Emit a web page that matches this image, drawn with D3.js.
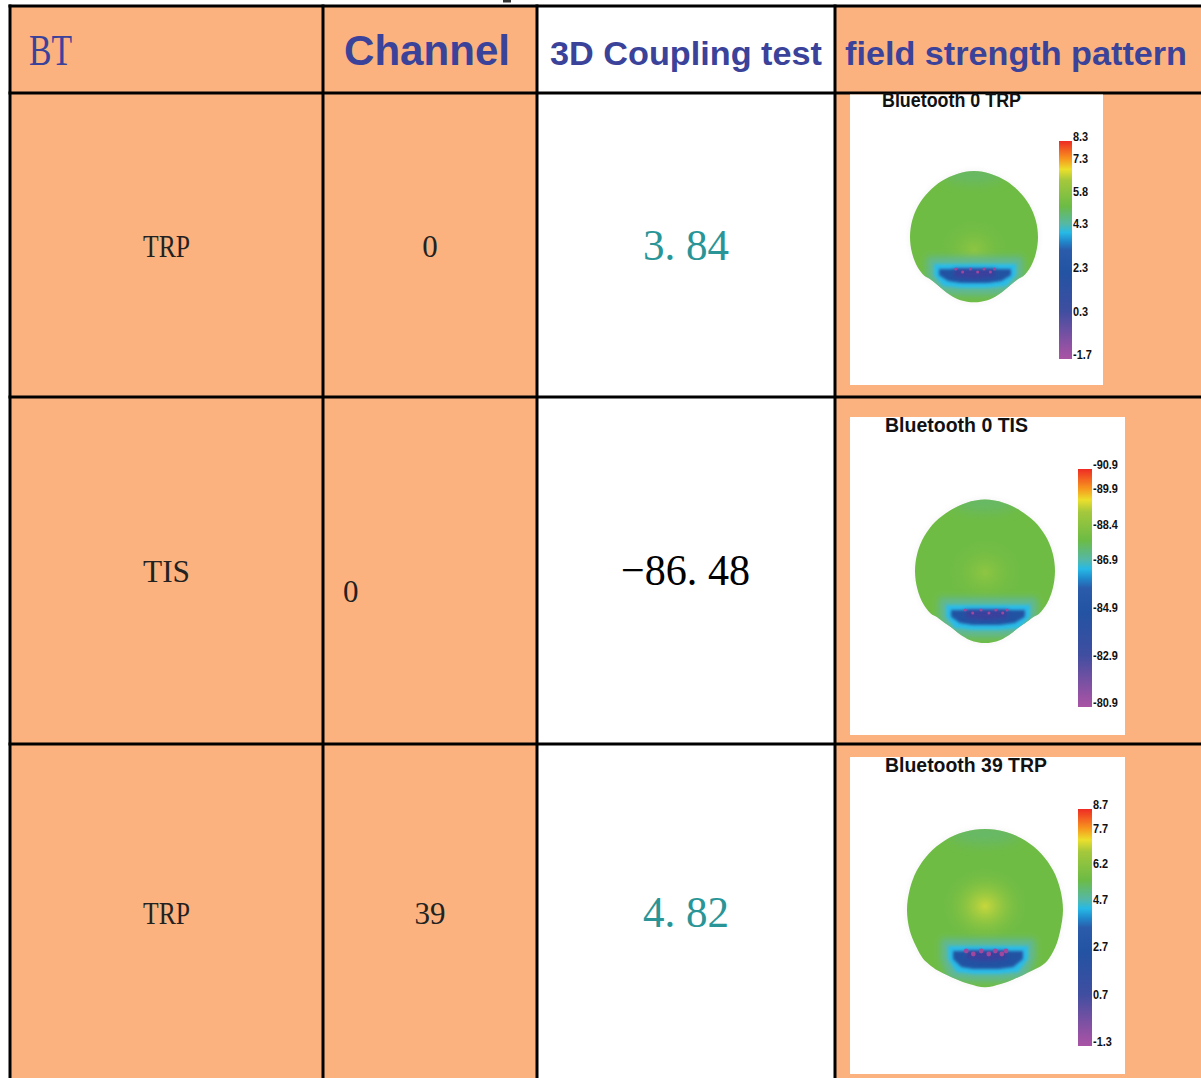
<!DOCTYPE html>
<html><head><meta charset="utf-8">
<script src="https://cdn.jsdelivr.net/npm/d3@7"></script>
<style>html,body{margin:0;padding:0;background:#fff}svg{display:block}</style>
</head><body><svg id="c" width="1201" height="1078"></svg>
<script>
// ---------- data ----------
const headers = ["BT", "Channel", "3D Coupling test", "field strength pattern"];
const rowTypes = ["TRP", "TIS", "TRP"];
const rowChannels = ["0", "0", "39"];
const rowValues = ["3. 84", "\u221286. 48", "4. 82"];
const rowValueTone = ["teal", "black", "teal"];
const panelTitles = ["Bluetooth 0 TRP", "Bluetooth 0 TIS", "Bluetooth 39 TRP"];
const ticks0 = [8.3, 7.3, 5.8, 4.3, 2.3, 0.3, -1.7];
const ticks1 = [-90.9, -89.9, -88.4, -86.9, -84.9, -82.9, -80.9];
const ticks2 = [8.7, 7.7, 6.2, 4.7, 2.7, 0.7, -1.3];
const outlineAngles = [0,15,30,45,60,75,90,105,118,128,134,142,150,158,168,180,192,202,210,218,226,232,242,255,270,285,300,315,330,345];
const outline0 = [1.03,1.02,1.01,1,1,1,1,1,1,.985,.95,.94,.955,.98,1.01,1.02,1.01,.98,.955,.94,.95,.985,1,1,1,1,1,1,1.01,1.02];
const outline1 = [1.02,1.01,1,1,1,1,1,1,1,.985,.95,.94,.94,.97,1.01,1.03,1.01,.97,.94,.94,.95,.985,1,1,1,1,1,1,1,1.01];
const outline2 = [1.04,1.035,1.03,1.02,1.01,1,1,1,1.02,1.03,1.02,.985,.965,.96,.97,.99,.97,.96,.965,.985,1.0,1.01,1,1,1,1,1.01,1.02,1.03,1.035];
const colourStops = [0, .04, .22, .40, .50, .54, .58, .62, .70, .82, .87, .92, 1];
const colourRamp = ["#a854a4","#9a52a4","#3f4ea0","#2353a3","#2a5cab","#2089cc","#27b9e6","#55b8a5","#6cbb45","#a5c83c","#ecdf2c","#f7941e","#ee2b24"];

// ---------- layout ----------
const W = 1201, H = 1078;
const PEACH = "#fbb27e", BLUE = "#3a429a", TEAL = "#2a9596";
const xEdges = [10, 323, 537, 835, W], yEdges = [6, 93, 397, 744, H];
const panels = [
 {x0:850,x1:1103,y0:93, y1:385, titleX:882,titleL:139,titleY:107,barX:1059,barW:13,barTop:141,barBot:359,cx:974,cy:237,r:64,ticks:ticks0,outline:outline0,bright:.28,band:[31,47],hwL:36,hwR:38,glowY:.2},
 {x0:850,x1:1125,y0:417,y1:735, titleX:885,titleL:143,titleY:432,barX:1078,barW:14,barTop:469,barBot:707,cx:985,cy:571,r:70,ticks:ticks1,outline:outline1,bright:.28,band:[38,55],hwL:35,hwR:41,glowY:.02},
 {x0:850,x1:1125,y0:757,y1:1074,titleX:885,titleL:162,titleY:772,barX:1078,barW:14,barTop:809,barBot:1046,cx:985,cy:910,r:78,ticks:ticks2,outline:outline2,bright:.8,band:[40,60],hwL:33,hwR:39,glowY:-.05}
];
const svg = d3.select("#c");
const defs = svg.append("defs");
const ff = "'Liberation Sans',Arial,sans-serif", fs = "'Liberation Serif','DejaVu Serif',serif";

// ---------- table ----------
const cols = d3.range(4), rows = d3.range(4);
rows.forEach(r => cols.forEach(c => {
  svg.append("rect").attr("x", xEdges[c]).attr("y", yEdges[r])
    .attr("width", xEdges[c+1]-xEdges[c]).attr("height", yEdges[r+1]-yEdges[r])
    .attr("fill", c===2 ? "#fff" : PEACH);
}));
svg.append("rect").attr("x",503).attr("y",0).attr("width",8).attr("height",2.5).attr("fill","#333");

const headerText = [
 {x:29, y:65, len:43, font:fs, size:44, weight:"normal"},
 {x:344,y:65, len:166,font:ff, size:42, weight:"bold"},
 {x:550,y:65, len:272,font:ff, size:33, weight:"bold"},
 {x:845,y:65, len:342,font:ff, size:33, weight:"bold"}];
headers.forEach((t,i)=>{ const h=headerText[i];
  svg.append("text").text(t).attr("x",h.x).attr("y",h.y).attr("font-family",h.font)
   .attr("font-size",h.size).attr("font-weight",h.weight).attr("fill",BLUE)
   .attr("textLength",h.len).attr("lengthAdjust","spacingAndGlyphs");
});
const typeY=[257,582,924], valueY=[260,585,927], chan=[{x:430,y:257,a:"middle"},{x:343,y:602,a:"start"},{x:430,y:924,a:"middle"}];
const valueX=[[643,86],[621,129],[643,86]];
rowTypes.forEach((t,i)=>{
  svg.append("text").text(t).attr("x",143).attr("y",typeY[i]).attr("font-family",fs).attr("font-size",31).attr("fill","#222")
    .attr("textLength",47).attr("lengthAdjust","spacingAndGlyphs");
  svg.append("text").text(rowChannels[i]).attr("x",chan[i].x).attr("y",chan[i].y).attr("text-anchor",chan[i].a)
    .attr("font-family",fs).attr("font-size",31).attr("fill","#222");
  svg.append("text").text(rowValues[i]).attr("x",valueX[i][0]).attr("y",valueY[i]).attr("font-family",fs).attr("font-size",44)
    .attr("fill",rowValueTone[i]==="teal"?TEAL:"#000").attr("textLength",valueX[i][1]).attr("lengthAdjust","spacingAndGlyphs");
});

// ---------- grid lines ----------
const lw = 3;
xEdges.slice(0,4).forEach(x=>svg.append("rect").attr("x",x-1.5).attr("y",yEdges[0]-1.5).attr("width",lw).attr("height",H).attr("fill","#000"));
yEdges.slice(0,3).forEach(y=>svg.append("rect").attr("x",xEdges[0]-1.5).attr("y",y-1.5).attr("width",W).attr("height",lw).attr("fill","#000"));
svg.append("rect").attr("x",xEdges[0]-1.5).attr("y",yEdges[3]-1.5).attr("width",W).attr("height",lw).attr("fill","#000");

// ---------- filters ----------
[["b6",6],["b4",3.5],["b2",2],["b15",1.4],["b1",.6]].forEach(([id,s])=>{
  defs.append("filter").attr("id",id).attr("x","-50%").attr("y","-50%").attr("width","200%").attr("height","200%")
    .append("feGaussianBlur").attr("stdDeviation",s);
});

// ---------- panels ----------
panels.forEach((p,i)=>{
  const g = svg.append("g");
  g.append("rect").attr("x",p.x0).attr("y",p.y0+(i===0?1.5:0)).attr("width",p.x1-p.x0).attr("height",p.y1-p.y0-(i===0?1.5:0)).attr("fill","#fff");
  g.append("text").text(panelTitles[i]).attr("x",p.titleX).attr("y",p.titleY).attr("font-family",ff).attr("font-weight","bold")
    .attr("font-size",20).attr("fill","#111").attr("textLength",p.titleL).attr("lengthAdjust","spacingAndGlyphs");

  // colour bar through a value scale
  const vals = p.ticks, lo = vals[vals.length-1], hi = vals[0];
  const y = d3.scaleLinear().domain([lo,hi]).range([p.barBot,p.barTop]);
  const grad = defs.append("linearGradient").attr("id","ramp"+i).attr("x1",0).attr("y1",1).attr("x2",0).attr("y2",0);
  colourStops.forEach((s,k)=>grad.append("stop").attr("offset",s).attr("stop-color",colourRamp[k]));
  g.append("rect").attr("x",p.barX).attr("y",p.barTop).attr("width",p.barW).attr("height",p.barBot-p.barTop).attr("fill",`url(#ramp${i})`);
  const ax = g.append("g").attr("transform",`translate(${p.barX+p.barW},-4.5)`)
    .call(d3.axisRight(y).tickValues(vals).tickSize(0).tickPadding(1).tickFormat(d3.format(".1f")));
  ax.select(".domain").remove();
  ax.selectAll("text").attr("font-family",ff).attr("font-weight","bold").attr("font-size",13).attr("fill","#111")
    .text(d=>d3.format(".1f")(d).replace("\u2212","-"))
    .each(function(){ this.setAttribute("textLength", this.getComputedTextLength()*.84); this.setAttribute("lengthAdjust","spacingAndGlyphs"); });

  // head: polar outline filled with layered field colours
  const radial = d3.lineRadial().angle(d=>d[0]*Math.PI/180).radius(d=>d[1]*p.r).curve(d3.curveCatmullRomClosed.alpha(.5));
  const headPath = radial(outlineAngles.map((a,k)=>[a,p.outline[k]]));
  const clipId="clip"+i;
  defs.append("clipPath").attr("id",clipId).append("path").attr("d",headPath);
  const rg = defs.append("radialGradient").attr("id","glow"+i);
  rg.append("stop").attr("offset",0).attr("stop-color","#dede3a").attr("stop-opacity",p.bright);
  rg.append("stop").attr("offset",.5).attr("stop-color","#b9d23c").attr("stop-opacity",p.bright*.4);
  rg.append("stop").attr("offset",1).attr("stop-color","#76bd43").attr("stop-opacity",0);

  const h = g.append("g").attr("transform",`translate(${p.cx},${p.cy})`);
  h.append("path").attr("d",headPath).attr("fill","none").attr("stroke","#e4e4e4").attr("stroke-width",4).attr("filter","url(#b2)").attr("opacity",.3);
  const inner = h.append("g").attr("clip-path",`url(#${clipId})`);
  inner.append("circle").attr("r",p.r*1.2).attr("fill","#6fbc45");
  inner.append("ellipse").attr("cy",-p.r*.98).attr("rx",p.r*.45).attr("ry",p.r*.14).attr("fill","#62b588").attr("opacity",.5).attr("filter","url(#b6)");
  inner.append("ellipse").attr("cy",p.r*p.glowY).attr("rx",p.r*.55).attr("ry",p.r*.5).attr("fill",`url(#glow${i})`);

  const [t,b] = p.band, L = p.hwL, R = p.hwR;
  const bandLine = d3.line().curve(d3.curveLinearClosed);
  const shape = k => bandLine([[-L-k,t-k],[R+k,t-k],[R+k,t+(b-t)*.45],[R*.75+k,b-2+k],[R*.35,b+k],[-L*.35,b+k],[-L*.75-k,b-2+k],[-L-k,t+(b-t)*.45]]);
  inner.append("path").attr("d",shape(11)).attr("fill","#5fb79a").attr("filter","url(#b4)");
  inner.append("path").attr("d",shape(4)).attr("fill","#2bbce8").attr("filter","url(#b15)");
  inner.append("path").attr("d",shape(-1)).attr("fill","#2353a3").attr("filter","url(#b15)");
  inner.append("path").attr("d",bandLine([[-L*.55,t+1],[R*.55,t+1],[R*.55,t+9],[0,t+11],[-L*.55,t+9]])).attr("fill","#3a3f9c").attr("filter","url(#b2)");
  const marks=[-.4,-.25,-.08,.08,.22,.36,.45];
  inner.selectAll(".m").data(marks).enter().append("circle").attr("cx",d=>d*R*1.2).attr("cy",(d,k)=>t+1+(k%2)*3).attr("r",i===2?2.4:1.5).attr("fill","#a0479e").attr("filter","url(#b1)");
});
</script></body></html>
